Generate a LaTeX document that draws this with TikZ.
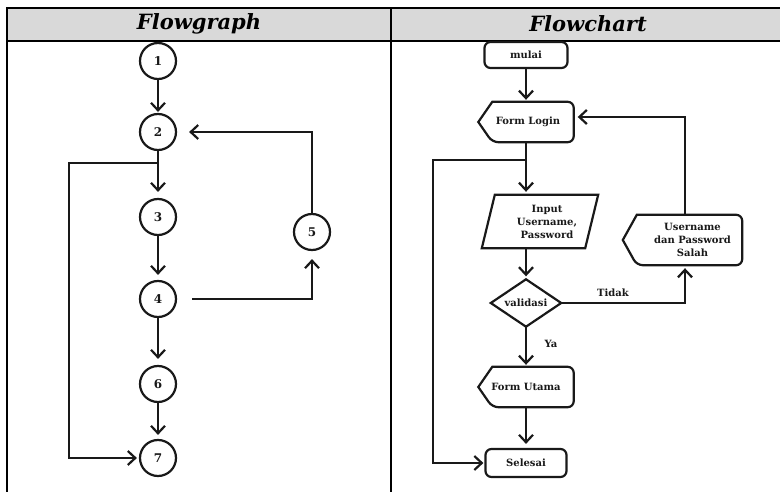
\documentclass[tikz,border=0pt]{standalone}
\usepackage{fontspec}
\setmainfont{DejaVu Serif}
\usetikzlibrary{arrows.meta}
\definecolor{hdr}{RGB}{217,217,217}
\definecolor{ink}{RGB}{25,25,25}
\tikzset{
  tbl/.style={line width=2.4pt, draw=black},
  ln/.style={line width=2.2pt, draw=ink},
  arr/.style={ln, -{Straight Barb[length=7.5pt,width=14pt]}},
  hfont/.style={font=\fontsize{21}{24}\selectfont\bfseries\itshape, inner sep=0pt},
  circ/.style={circle, ln, minimum size=36pt, inner sep=0pt, font=\fontsize{12}{14}\selectfont\bfseries, text=ink},
  txt/.style={inner sep=0pt, align=center, font=\fontsize{10}{13}\selectfont\bfseries, text=ink},
  term/.style={txt, ln, rounded corners=6pt},
  lbl/.style={inner sep=0pt, font=\fontsize{10}{13}\selectfont\bfseries, text=ink},
}
\newcommand\dispshape[1]{\draw[ln] (#1.west) -- ([xshift=14pt]#1.north west) [rounded corners=6pt] -- (#1.north east) -- (#1.south east) -- ([xshift=14pt]#1.south west) [sharp corners] -- cycle;}
\begin{document}
\begin{tikzpicture}[x=1pt,y=-1pt]
\useasboundingbox (0,0) rectangle (780,492);
% table
\fill[hdr] (7,8) rectangle (780,41);
\draw[tbl] (7,492) -- (7,8) -- (780,8);
\draw[tbl] (7,41) -- (780,41);
\draw[tbl] (391,8) -- (391,492);
\node[hfont] (h1) at (199,24) {Flowgraph};
\node[hfont] (h2) at (588,24) {Flowchart};
% flowgraph
\node[circ] (n1) at (158,61) {1};
\node[circ] (n2) at (158,132) {2};
\node[circ] (n3) at (158,217) {3};
\node[circ] (n4) at (158,299) {4};
\node[circ] (n5) at (312,232) {5};
\node[circ] (n6) at (158,384) {6};
\node[circ] (n7) at (158,458) {7};
\coordinate (b1) at (158,163);
\coordinate (bl1) at (69,163);
\draw[arr, shorten >=1pt] (n1) -- (n2);
\draw[arr, shorten >=6pt] (n2) -- (n3);
\draw[arr, shorten >=5pt] (n3) -- (n4);
\draw[arr, shorten >=6pt] (n4) -- (n6);
\draw[arr, shorten >=4pt] (n6) -- (n7);
\draw[arr, shorten >=2pt] (b1) -- (bl1) |- (n7);
\draw[arr, shorten >=12pt] (n5) |- (n2);
\draw[arr, shorten <=15pt, shorten >=8pt] (n4) -| (n5);
% flowchart
\node[term, minimum width=83pt, minimum height=26pt] (mulai) at (526,55) {mulai};
\node[txt, minimum width=95pt, minimum height=40pt] (login) at (526,122) {\hspace*{4pt}Form Login};
\dispshape{login}
\coordinate (b2) at (526,160);
\coordinate (bl2) at (433,160);
\node[txt, minimum width=116pt, minimum height=53pt] (inp) at (540,221.5)
  {\hspace*{14pt}Input\\\hspace*{14pt}Username,\\\hspace*{14pt}Password};
\draw[ln] ([xshift=13pt]inp.north west) -- (inp.north east) -- ([xshift=-13pt]inp.south east) -- (inp.south west) -- cycle;
\node[txt, minimum width=70pt, minimum height=47pt] (val) at (526,303) {validasi};
\draw[ln] (val.north) -- (val.east) -- (val.south) -- (val.west) -- cycle;
\node[txt, minimum width=119pt, minimum height=50pt] (uname) at (682.5,240)
  {\hspace*{20pt}Username\\\hspace*{20pt}dan Password\\\hspace*{20pt}Salah};
\dispshape{uname}
\node[txt, minimum width=95pt, minimum height=40pt] (utama) at (526,387) {Form Utama};
\dispshape{utama}
\node[term, minimum width=81pt, minimum height=28pt] (selesai) at (526,463) {Selesai};
\draw[arr, shorten >=2pt] (mulai) -- (login);
\draw[ln] (login) -- (b2);
\draw[arr, shorten >=3pt] (b2) -- (b2 |- inp.north);
\draw[arr, shorten >=3pt] (val.north |- inp.south) -- (val.north);
\draw[arr, shorten >=3pt] (val.east) -| ([xshift=2.5pt]uname.south);
\node[lbl] (tidak) at (613,293) {Tidak};
\draw[arr, shorten >=4pt] ([xshift=2.5pt]uname.north) |- ([yshift=5pt]login.east);
\draw[arr, shorten >=2pt] (val.south) -- (utama);
\node[lbl] (ya) at (551,344) {Ya};
\draw[arr, shorten >=4pt] (utama) -- (selesai);
\draw[arr, shorten >=1pt] (b2) -- (bl2) |- (selesai);
\end{tikzpicture}
\end{document}
